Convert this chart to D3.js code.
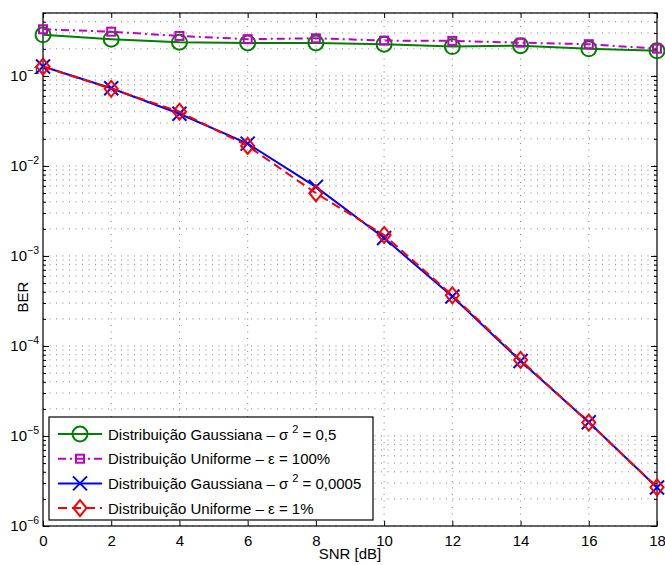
<!DOCTYPE html>
<html>
<head>
<meta charset="utf-8">
<script src="https://cdn.jsdelivr.net/npm/d3@7"></script>
<style>
  body { margin: 0; background: #fff; }
  svg { font-family: "Liberation Sans", Arial, sans-serif; }
  .grid line { stroke: #000; stroke-opacity: 0.6; stroke-width: 0.8; stroke-dasharray: 1,5.5; }
</style>
</head>
<body>
<div id="chart"></div>
<script>
// data
const snr = [0, 2, 4, 6, 8, 10, 12, 14, 16, 18];
const gaussLarge = [0.286, 0.256, 0.237, 0.232, 0.232, 0.225, 0.212, 0.217, 0.200, 0.190];
const uniformLarge = [0.330, 0.310, 0.278, 0.256, 0.262, 0.247, 0.245, 0.234, 0.225, 0.201];
const gaussSmall = [0.127, 0.073, 0.038, 0.0177, 0.00585, 0.00158, 3.55e-4, 6.8e-5, 1.42e-5, 2.68e-6];
const uniformSmall = [0.127, 0.072, 0.040, 0.0167, 0.00498, 0.00171, 3.65e-4, 7.0e-5, 1.41e-5, 2.69e-6];
const xTicks = [0, 2, 4, 6, 8, 10, 12, 14, 16, 18];
const yTicks = [-6, -5, -4, -3, -2, -1]; // exponents

const series = [
  {name: "Distribuição Gaussiana – σ", sup: "2", tail: " = 0,5", values: gaussLarge, color: "#008000", dash: null, marker: "circle"},
  {name: "Distribuição Uniforme – ε = 100%", sup: null, tail: "", values: uniformLarge, color: "#c000c0", dash: "8,4,2,4", marker: "square"},
  {name: "Distribuição Gaussiana – σ", sup: "2", tail: " = 0,0005", values: gaussSmall, color: "#0000ff", dash: null, marker: "x"},
  {name: "Distribuição Uniforme – ε = 1%", sup: null, tail: "", values: uniformSmall, color: "#ff0000", dash: "9,5", marker: "diamond"}
];

const W = 665, H = 565;
const margin = {top: 13, right: 8, bottom: 39, left: 43};
const width = W - margin.left - margin.right;
const height = H - margin.top - margin.bottom;

const svg = d3.select("#chart").append("svg").attr("width", W).attr("height", H);
const g = svg.append("g").attr("transform", `translate(${margin.left},${margin.top})`);

const x = d3.scaleLinear().domain([0, 18]).range([0, width]);
const y = d3.scaleLog().domain([1e-6, 0.5]).range([height, 0]);

// minor tick values
const minor = [];
for (let e = -6; e <= -1; e++) {
  for (let k = 1; k <= 9; k++) {
    const v = k * Math.pow(10, e);
    if (v <= 0.5 && v >= 1e-6) minor.push(v);
  }
}

// grid
const grid = g.append("g").attr("class", "grid");
grid.selectAll(".hg").data(minor).enter().append("line")
  .attr("x1", 0).attr("x2", width)
  .attr("y1", d => y(d)).attr("y2", d => y(d));
grid.selectAll(".vg").data(xTicks.slice(1, -1)).enter().append("line")
  .attr("y1", 0).attr("y2", height)
  .attr("x1", d => x(d)).attr("x2", d => x(d));

// axes with inward ticks
const axisStyle = sel => {
  sel.select(".domain").remove();
  sel.selectAll("line").attr("stroke", "#000");
  sel.selectAll("text").attr("font-size", 15).attr("fill", "#000");
};
g.append("g").attr("transform", `translate(0,${height})`)
  .call(d3.axisBottom(x).tickValues(xTicks).tickSizeInner(-5).tickSizeOuter(0).tickPadding(9))
  .call(axisStyle);
g.append("g")
  .call(d3.axisTop(x).tickValues(xTicks).tickSizeInner(-5).tickSizeOuter(0).tickFormat(""))
  .call(axisStyle);
g.append("g")
  .call(d3.axisLeft(y).tickValues(yTicks.map(e => Math.pow(10, e))).tickSizeInner(-6).tickSizeOuter(0).tickFormat(""))
  .call(axisStyle);
g.append("g").attr("transform", `translate(${width},0)`)
  .call(d3.axisRight(y).tickValues(yTicks.map(e => Math.pow(10, e))).tickSizeInner(-6).tickSizeOuter(0).tickFormat(""))
  .call(axisStyle);
g.append("g")
  .call(d3.axisLeft(y).tickValues(minor).tickSizeInner(-3).tickSizeOuter(0).tickFormat(""))
  .call(axisStyle);
g.append("g").attr("transform", `translate(${width},0)`)
  .call(d3.axisRight(y).tickValues(minor).tickSizeInner(-3).tickSizeOuter(0).tickFormat(""))
  .call(axisStyle);

// y tick labels 10^e
const yl = g.append("g").selectAll("text").data(yTicks).enter().append("text")
  .attr("x", -4).attr("y", d => y(Math.pow(10, d)) + 5)
  .attr("text-anchor", "end").attr("font-size", 15);
yl.append("tspan").text("10");
yl.append("tspan").attr("dy", -7).attr("font-size", 10.5).text(d => "−" + Math.abs(d));

// box
g.append("rect").attr("width", width).attr("height", height)
  .attr("fill", "none").attr("stroke", "#000").attr("stroke-width", 1.2);

// axis labels
svg.append("text").attr("x", margin.left + width / 2).attr("y", 559)
  .attr("text-anchor", "middle").attr("font-size", 15).text("SNR [dB]");
svg.append("text").attr("transform", "translate(28,297) rotate(-90)")
  .attr("text-anchor", "middle").attr("font-size", 15).text("BER");

// markers
function drawMarker(sel, type, color) {
  if (type === "circle") {
    sel.append("circle").attr("r", 7.5).attr("fill", "none").attr("stroke", color).attr("stroke-width", 2);
  } else if (type === "square") {
    sel.append("rect").attr("x", -4).attr("y", -4).attr("width", 8).attr("height", 8)
      .attr("fill", "none").attr("stroke", color).attr("stroke-width", 2);
  } else if (type === "x") {
    sel.append("path").attr("d", "M-7,-7L7,7M-7,7L7,-7").attr("stroke", color).attr("stroke-width", 2);
  } else if (type === "diamond") {
    sel.append("path").attr("d", "M0,-8L6.5,0L0,8L-6.5,0Z")
      .attr("fill", "none").attr("stroke", color).attr("stroke-width", 2);
  }
}

const line = d3.line().x((d, i) => x(snr[i])).y(d => y(d));
const plot = g.append("g");
series.forEach(s => {
  plot.append("path").datum(s.values).attr("d", line)
    .attr("fill", "none").attr("stroke", s.color).attr("stroke-width", 2)
    .attr("stroke-dasharray", s.dash);
  plot.append("g").selectAll("g").data(s.values).enter().append("g")
    .attr("transform", (d, i) => `translate(${x(snr[i])},${y(d)})`)
    .each(function () { drawMarker(d3.select(this), s.marker, s.color); });
});

// legend
const leg = svg.append("g").attr("transform", "translate(49,417)");
leg.append("rect").attr("width", 324).attr("height", 103)
  .attr("fill", "#fff").attr("stroke", "#000").attr("stroke-width", 1.2);
series.forEach((s, i) => {
  const row = leg.append("g").attr("transform", `translate(0,${17 + i * 24.7})`);
  row.append("line").attr("x1", 9).attr("x2", 53)
    .attr("stroke", s.color).attr("stroke-width", 2).attr("stroke-dasharray", s.dash);
  drawMarker(row.append("g").attr("transform", "translate(31,0)"), s.marker, s.color);
  const t = row.append("text").attr("x", 59).attr("y", 5.5).attr("font-size", 15);
  t.append("tspan").text(s.name);
  if (s.sup) {
    t.append("tspan").attr("dx", 4).attr("dy", -7).attr("font-size", 11).text(s.sup);
    t.append("tspan").attr("dy", 7).text(s.tail);
  }
});
</script>
</body>
</html>
